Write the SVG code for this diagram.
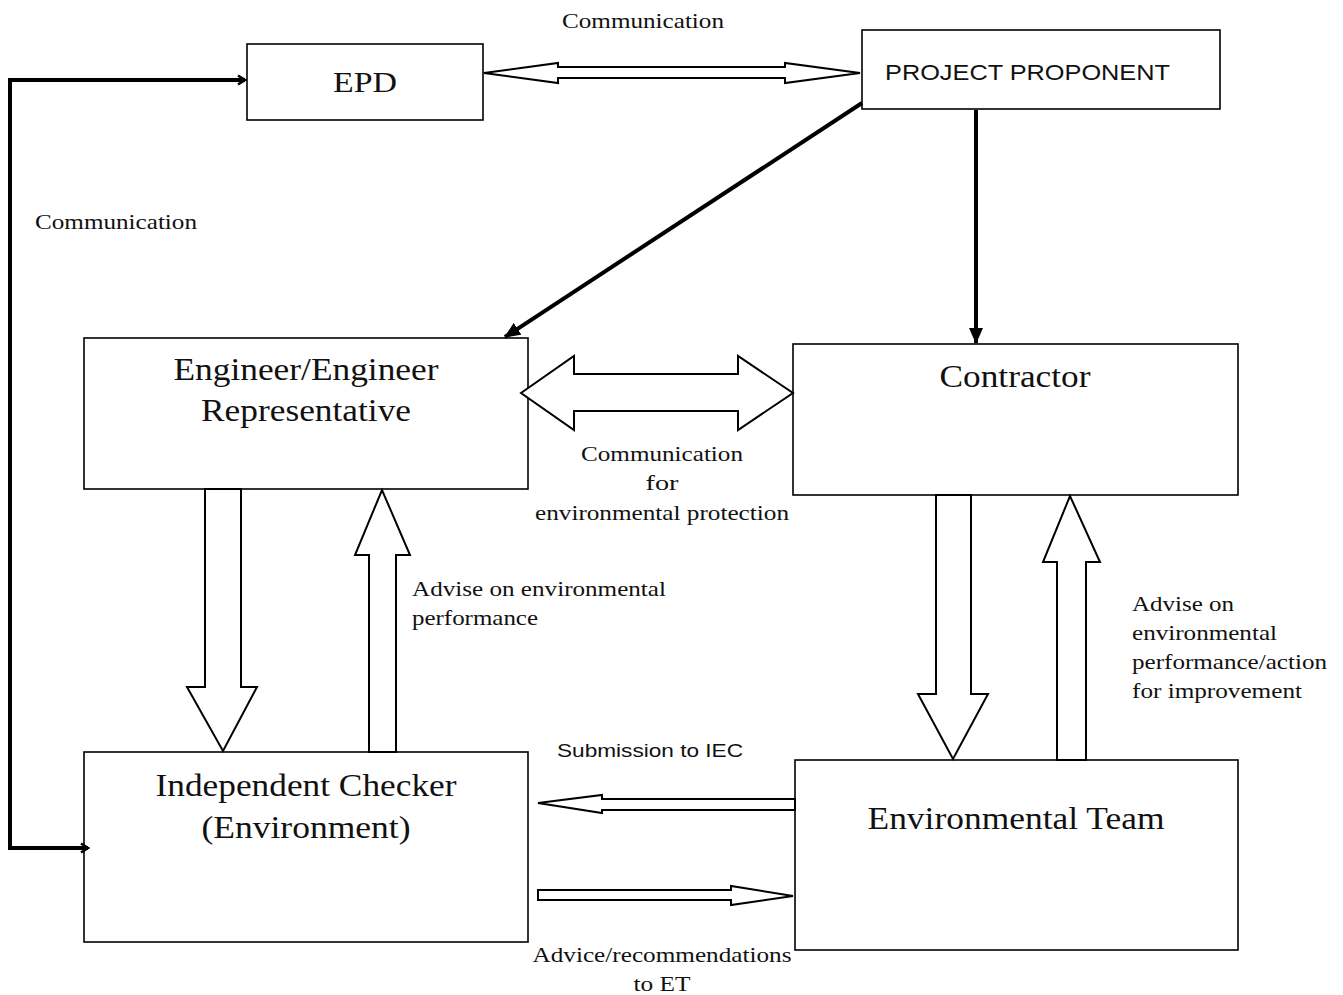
<svg xmlns="http://www.w3.org/2000/svg" width="1343" height="995" viewBox="0 0 1343 995">
<defs>
<style>
.box{fill:#fff;stroke:#000;stroke-width:1.6}
.serif{font-family:"Liberation Serif","Times New Roman",serif;fill:#111}
.sans{font-family:"Liberation Sans",Arial,sans-serif;fill:#111}
.s{font-size:21px}
.l{font-size:31px}
.blk{fill:#fff;stroke:#000;stroke-width:2;stroke-linejoin:miter}
.thick{fill:none;stroke:#000;stroke-width:4}
</style>
<marker id="open" markerWidth="12" markerHeight="12" refX="9" refY="6" orient="auto-start-reverse" markerUnits="userSpaceOnUse">
<path d="M2,1.5 L9,6 L2,10.5" fill="none" stroke="#000" stroke-width="2.5"/>
</marker>
<marker id="solid" markerWidth="16" markerHeight="14" refX="15" refY="7" orient="auto" markerUnits="userSpaceOnUse">
<path d="M0,0 L16,7 L0,14 Z" fill="#000"/>
</marker>
</defs>
<rect width="1343" height="995" fill="#fff"/>

<g id="epd">
<rect class="box" x="247" y="44" width="236" height="76"/>
<text class="serif" x="365" y="92" font-size="30" text-anchor="middle" textLength="64" lengthAdjust="spacingAndGlyphs">EPD</text>
</g>
<g id="project-proponent">
<rect class="box" x="862" y="30" width="358" height="79"/>
<text class="sans" x="885" y="80" font-size="22" textLength="285" lengthAdjust="spacingAndGlyphs">PROJECT PROPONENT</text>
</g>
<g id="engineer">
<rect class="box" x="84" y="338" width="444" height="151"/>
<text class="serif l" x="306" y="380" text-anchor="middle" textLength="265" lengthAdjust="spacingAndGlyphs">Engineer/Engineer</text>
<text class="serif l" x="306" y="421" text-anchor="middle" textLength="210" lengthAdjust="spacingAndGlyphs">Representative</text>
</g>
<g id="contractor">
<rect class="box" x="793" y="344" width="445" height="151"/>
<text class="serif l" x="1015" y="387" text-anchor="middle" textLength="151" lengthAdjust="spacingAndGlyphs">Contractor</text>
</g>
<g id="independent-checker">
<rect class="box" x="84" y="752" width="444" height="190"/>
<text class="serif l" x="306" y="796" text-anchor="middle" textLength="301" lengthAdjust="spacingAndGlyphs">Independent Checker</text>
<text class="serif l" x="306" y="838" text-anchor="middle" textLength="209" lengthAdjust="spacingAndGlyphs">(Environment)</text>
</g>
<g id="environmental-team">
<rect class="box" x="795" y="760" width="443" height="190"/>
<text class="serif l" x="1016" y="829" text-anchor="middle" textLength="297" lengthAdjust="spacingAndGlyphs">Environmental Team</text>
</g>

<g id="connectors">
<polyline class="thick" points="245,80 10,80 10,848 88,848" marker-start="url(#open)" marker-end="url(#open)"/>
<line class="thick" x1="862" y1="103" x2="505" y2="337" marker-end="url(#solid)"/>
<line class="thick" x1="976" y1="110" x2="976" y2="343" marker-end="url(#solid)"/>
<path class="blk" d="M484,73 L558,63 L558,67 L785,67 L785,63 L860,73 L785,83 L785,78 L558,78 L558,83 Z"/>
<path class="blk" d="M521,393 L574,356 L574,374 L738,374 L738,356 L793,393 L738,430 L738,411 L574,411 L574,430 Z"/>
<path class="blk" d="M205,489 L241,489 L241,687 L257,687 L223,751 L187,687 L205,687 Z"/>
<path class="blk" d="M369,752 L369,555 L355,555 L382,490 L410,555 L396,555 L396,752 Z"/>
<path class="blk" d="M936,495 L971,495 L971,694 L988,694 L953,759 L918,694 L936,694 Z"/>
<path class="blk" d="M1057,760 L1057,562 L1043,562 L1070,496 L1100,562 L1086,562 L1086,760 Z"/>
<path class="blk" d="M795,799 L602,799 L602,795 L538,803 L602,813 L602,810 L795,810 Z"/>
<path class="blk" d="M538,890 L731,890 L731,886 L793,896 L731,905 L731,900 L538,900 Z"/>
</g>

<g id="labels">
<text class="serif s" x="643" y="28" text-anchor="middle" textLength="162" lengthAdjust="spacingAndGlyphs">Communication</text>
<text class="serif s" x="35" y="229" textLength="162" lengthAdjust="spacingAndGlyphs">Communication</text>
<text class="serif s" x="662" y="461" text-anchor="middle" textLength="162" lengthAdjust="spacingAndGlyphs">Communication</text>
<text class="serif s" x="662" y="490" text-anchor="middle" textLength="33" lengthAdjust="spacingAndGlyphs">for</text>
<text class="serif s" x="662" y="520" text-anchor="middle" textLength="254" lengthAdjust="spacingAndGlyphs">environmental protection</text>
<text class="serif s" x="412" y="596" textLength="254" lengthAdjust="spacingAndGlyphs">Advise on environmental</text>
<text class="serif s" x="412" y="625" textLength="126" lengthAdjust="spacingAndGlyphs">performance</text>
<text class="serif s" x="1132" y="611" textLength="102" lengthAdjust="spacingAndGlyphs">Advise on</text>
<text class="serif s" x="1132" y="640" textLength="145" lengthAdjust="spacingAndGlyphs">environmental</text>
<text class="serif s" x="1132" y="669" textLength="195" lengthAdjust="spacingAndGlyphs">performance/action</text>
<text class="serif s" x="1132" y="698" textLength="170" lengthAdjust="spacingAndGlyphs">for improvement</text>
<text class="sans" x="557" y="757" font-size="19" textLength="186" lengthAdjust="spacingAndGlyphs">Submission to IEC</text>
<text class="serif s" x="662" y="962" text-anchor="middle" textLength="259" lengthAdjust="spacingAndGlyphs">Advice/recommendations</text>
<text class="serif s" x="662" y="991" text-anchor="middle" textLength="57" lengthAdjust="spacingAndGlyphs">to ET</text>
</g>
</svg>
